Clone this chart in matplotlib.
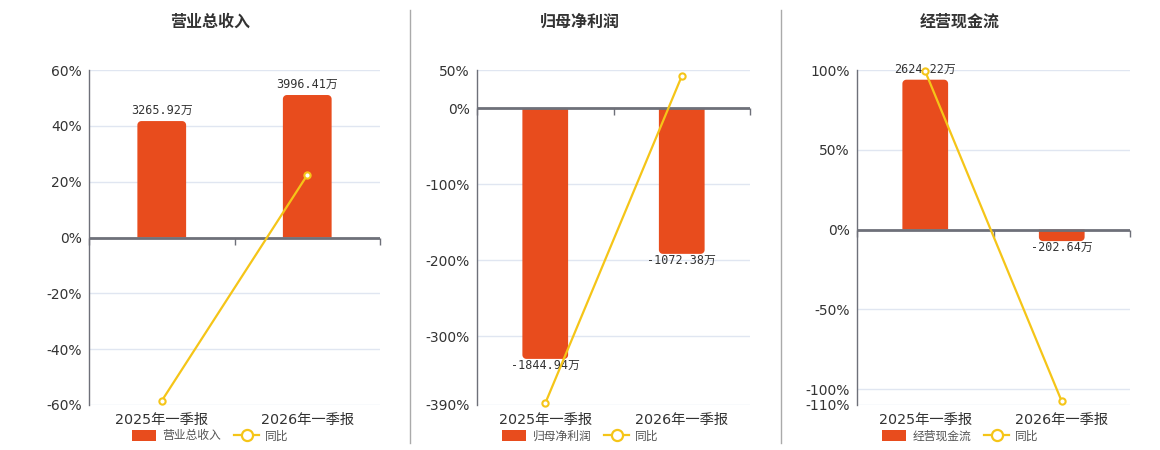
import numpy as np
import matplotlib
matplotlib.use('Agg')
import matplotlib.pyplot as plt
from matplotlib.patches import Patch, Polygon
from matplotlib.lines import Line2D

plt.rcParams['font.family'] = ['DejaVu Sans', 'Noto Sans CJK SC']

# ── Data ──────────────────────────────────────────────────────────────────────
periods = ['2025年一季报', '2026年一季报']
titles = ['营业总收入', '归母净利润', '经营现金流']

revenue = [3265.92, 3996.41]          # 万
revenue_yoy = [-58.5, 22.37]          # %
profit = [-1844.94, -1072.38]
profit_yoy = [-387.8, 41.87]
cashflow = [2624.22, -202.64]
cashflow_yoy = [99.1, -107.72]

bar_values = [revenue, profit, cashflow]
yoy_values = [revenue_yoy, profit_yoy, cashflow_yoy]

pct_ticks = [[60, 40, 20, 0, -20, -40, -60],
             [50, 0, -100, -200, -300, -390],
             [100, 50, 0, -50, -100, -110]]

# bar axis top, chosen so zero lines up with the percent axis
bar_tops = [4698, 280, 2794]

BAR = '#E84C1D'
LINE = '#F5C518'
AXC = '#6E7079'
GRID = '#E0E6F1'
TXT = '#333333'

W, H = 1160, 450
fig = plt.figure(figsize=(W / 100, H / 100), dpi=100)

# pixel boxes: left, right, top, bottom
boxes = [(89, 380, 70, 405), (477, 750, 70, 405), (857, 1130, 70, 405)]
centers = [210, 580, 960]

def fpos(l, r, t, b):
    return [l / W, 1 - b / H, (r - l) / W, (b - t) / H]

def rounded_bar(x0, w, h, rx, ry):
    """Bar outline from 0 to h with the far-end corners rounded."""
    s = 1 if h >= 0 else -1
    ry = min(ry, abs(h))
    a = np.linspace(0, np.pi / 2, 8)
    yend = h - s * ry
    right = [(x0 + w - rx + rx * np.sin(t), yend + s * ry * np.cos(t)) for t in a]
    left = [(x0 + rx - rx * np.cos(t), yend + s * ry * np.sin(t)) for t in a]
    pts = [(x0, 0), (x0 + w, 0)] + right[::-1] + left[::-1]
    return pts

for i in range(3):
    l, r, t, b = boxes[i]
    pos = fpos(l, r, t, b)
    ticks = pct_ticks[i]
    ymin, ymax = min(ticks), max(ticks)
    x = np.arange(len(periods))

    ax = fig.add_axes(pos)
    ax.set_xlim(-0.5, 1.5)
    ax.set_ylim(ymin, ymax)
    ax.set_yticks(ticks)
    ax.set_yticklabels([f'{tk}%' for tk in ticks])
    ax.set_xticks(x)
    ax.set_xticklabels(periods)
    ax.tick_params(axis='y', length=0, pad=5, labelsize=10, labelcolor=TXT)
    ax.tick_params(axis='x', length=0, pad=6, labelsize=10.3, labelcolor=TXT)
    for tk in ticks:
        ax.axhline(tk, color=GRID, lw=1, zorder=0)
    for s in ['top', 'right', 'bottom']:
        ax.spines[s].set_visible(False)
    ax.spines['left'].set_color(AXC)
    ax.spines['left'].set_linewidth(1)

    # bars on their own scale
    axb = ax.twinx()
    blo, bhi = bar_tops[i] * ymin / ymax, bar_tops[i]
    axb.set_ylim(blo, bhi)
    axb.set_xlim(-0.5, 1.5)
    axb.axis('off')
    vals = bar_values[i]
    bars = axb.bar(x, vals, width=0.335, color=BAR, zorder=2)

    # round the bar ends (~4px radius)
    xpp = 2.0 / (r - l)
    ypp = (bhi - blo) / (b - t)
    for rect in bars:
        pts = rounded_bar(rect.get_x(), rect.get_width(), rect.get_height(), 4 * xpp, 4 * ypp)
        axb.add_patch(Polygon(pts, closed=True, fc=BAR, ec='none', zorder=2))
        rect.set_visible(False)

    for xi, v in zip(x, vals):
        if v >= 0:
            axb.annotate(f'{v:.2f}万', (xi, v), xytext=(0, 3), textcoords='offset points',
                         ha='center', va='bottom', fontsize=8.5, color=TXT,
                         family=['DejaVu Sans Mono', 'Noto Sans CJK SC'])
        else:
            axb.annotate(f'{v:.2f}万', (xi, v), xytext=(0, 0), textcoords='offset points',
                         ha='center', va='top', fontsize=8.5, color=TXT,
                         family=['DejaVu Sans Mono', 'Noto Sans CJK SC'])

    # yoy line + zero axis on top
    axl = ax.twinx()
    axl.set_ylim(ymin, ymax)
    axl.set_xlim(-0.5, 1.5)
    axl.axis('off')
    axl.axhline(0, color=AXC, lw=2, zorder=3)
    axl.plot([-0.5, 0.5, 1.5], [0, 0, 0], ls='none', marker=3, ms=5, mew=1,
             color=AXC, zorder=3, clip_on=False)
    axl.plot(x, yoy_values[i], color=LINE, lw=1.6, marker='o', ms=4.5,
             mfc='white', mec=LINE, mew=1.5, zorder=4, clip_on=False)

    fig.text(centers[i] / W, 1 - 22 / H, titles[i], ha='center', va='center',
             fontsize=11.5, fontweight='bold', color=TXT, family=['Noto Sans CJK SC'])

    handles = [Patch(facecolor=BAR, edgecolor='none'),
               Line2D([], [], color=LINE, lw=1.6, marker='o', ms=8, mfc='white',
                      mec=LINE, mew=1.6)]
    fig.legend(handles, [titles[i], '同比'], loc='center',
               bbox_to_anchor=(centers[i] / W, 1 - 436 / H), ncol=2, frameon=False,
               prop={'family': 'Noto Sans CJK SC', 'size': 8.5}, labelcolor='#555555',
               handlelength=2.1, handleheight=1.1, handletextpad=0.5, columnspacing=1.1,
               borderpad=0, borderaxespad=0)

# panel separators
for sx in [410, 781]:
    fig.add_artist(Line2D([sx / W, sx / W], [1 - 443 / H, 1 - 10 / H], color='#AAAAAA', lw=1))

fig.savefig('out.png', dpi=100)
